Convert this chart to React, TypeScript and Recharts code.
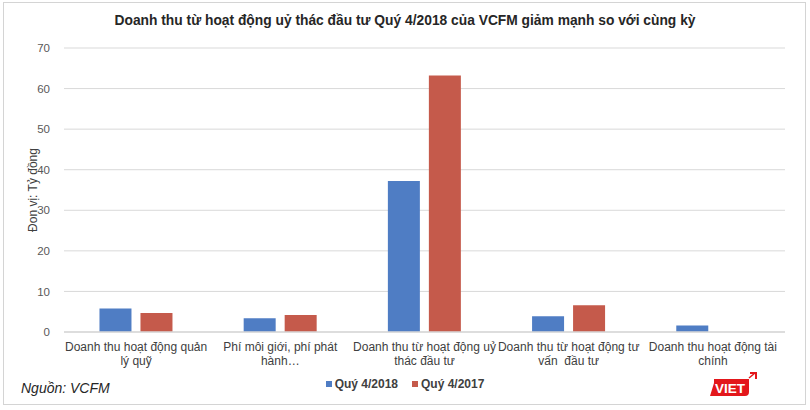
import { BarChart, Bar, XAxis, YAxis, CartesianGrid } from "recharts"

const categories = [
  ["Doanh thu hoạt động quản", "lý quỹ"],
  ["Phí môi giới, phí phát", "hành…"],
  ["Doanh thu từ hoạt động uỷ", "thác đầu tư"],
  ["Doanh thu từ hoạt động tư", "vấn  đầu tư"],
  ["Doanh thu hoạt động tài", "chính"],
]
const q4_2018 = [5.8, 3.4, 37.2, 3.9, 1.6]
const q4_2017 = [4.7, 4.2, 63.2, 6.6, 0]
const yTicks = [0, 10, 20, 30, 40, 50, 60, 70]

const data = categories.map((lines, i) => ({
  name: lines.join(" "),
  q2018: q4_2018[i],
  q2017: q4_2017[i],
}))

const BLUE = "#4F7DC4"
const RED = "#C55A4B"

const series = [
  { key: "q2018", label: "Quý 4/2018", color: BLUE },
  { key: "q2017", label: "Quý 4/2017", color: RED },
]

function CategoryTick(props: any) {
  const { x, y, index } = props
  const lines = categories[index] || []
  return (
    <text x={x} y={y} textAnchor="middle" fontFamily="'Liberation Sans', Arial" fontSize={12} fill="#404040">
      {lines.map((l, i) => (
        <tspan key={i} x={x} dy={i === 0 ? 19 : 14} style={{ whiteSpace: "pre" }}>
          {l}
        </tspan>
      ))}
    </text>
  )
}

export default function App() {
  return (
    <div style={{ position: "absolute", left: 0, top: 0, width: 810, height: 410, background: "#fff", fontFamily: "'Liberation Sans', Arial" }}>
      <div style={{ position: "absolute", left: 3, top: 2, width: 801, height: 401, border: "1px solid #d4d4d4" }} />
      <div style={{ position: "absolute", left: 0, top: 13, width: 810, textAlign: "center", fontWeight: "bold", fontSize: 13.8, color: "#262626" }}>
        Doanh thu từ hoạt động uỷ thác đầu tư Quý 4/2018 của VCFM giảm mạnh so với cùng kỳ
      </div>
      <BarChart
        width={810}
        height={410}
        data={data}
        margin={{ top: 48, right: 25, left: 0, bottom: 0 }}
        barCategoryGap="24.6%"
        barGap={9}
        style={{ position: "absolute", left: 0, top: 0 }}
      >
        <CartesianGrid vertical={false} stroke="#d9d9d9" />
        <XAxis
          dataKey="name"
          height={78}
          tickSize={0}
          tickMargin={0}
          interval={0}
          axisLine={{ stroke: "#d9d9d9", strokeWidth: 1.5 }}
          tickLine={false}
          tick={<CategoryTick />}
        />
        <YAxis
          width={64}
          domain={[0, 70]}
          ticks={yTicks}
          axisLine={false}
          tickLine={false}
          tickSize={0}
          tickMargin={14}
          tick={{ fontFamily: "'Liberation Sans', Arial", fontSize: 11.5, fill: "#595959" }}
          label={{
            value: "Đon vị: Tỷ đồng",
            angle: -90,
            position: "insideLeft",
            offset: 33,
            style: { textAnchor: "middle", fontFamily: "'Liberation Sans', Arial", fontSize: 12, fill: "#404040" },
          }}
        />
        {series.map((s) => (
          <Bar key={s.key} dataKey={s.key} name={s.label} fill={s.color} isAnimationActive={false} />
        ))}
      </BarChart>
      <div style={{ position: "absolute", left: 0, top: 377, width: 810, display: "flex", justifyContent: "center", gap: 14, fontSize: 12, fontWeight: "bold", color: "#404040" }}>
        {series.map((s) => (
          <span key={s.key} style={{ display: "flex", alignItems: "center" }}>
            <span style={{ width: 6, height: 6, background: s.color, marginRight: 3, display: "inline-block" }} />
            {s.label}
          </span>
        ))}
      </div>
      <div style={{ position: "absolute", left: 21, top: 380, fontStyle: "italic", fontSize: 14, color: "#262626" }}>Nguồn: VCFM</div>
      <svg style={{ position: "absolute", left: 708, top: 371 }} width={50} height={28}>
        <path d="M6 8 H41 V21 Q41 25 37 25 H2 L6 12 Z" fill="#E3171B" />
        <path d="M42 2 H48 V8" fill="none" stroke="#E3171B" strokeWidth={2} />
        <path d="M41 7 L47 2" stroke="#E3171B" strokeWidth={1.5} />
        <text x={22} y={21.5} textAnchor="middle" fontFamily="'Liberation Sans', Arial" fontWeight="bold" fontSize={13.5} fill="#fff">
          VIET
        </text>
      </svg>
    </div>
  )
}
